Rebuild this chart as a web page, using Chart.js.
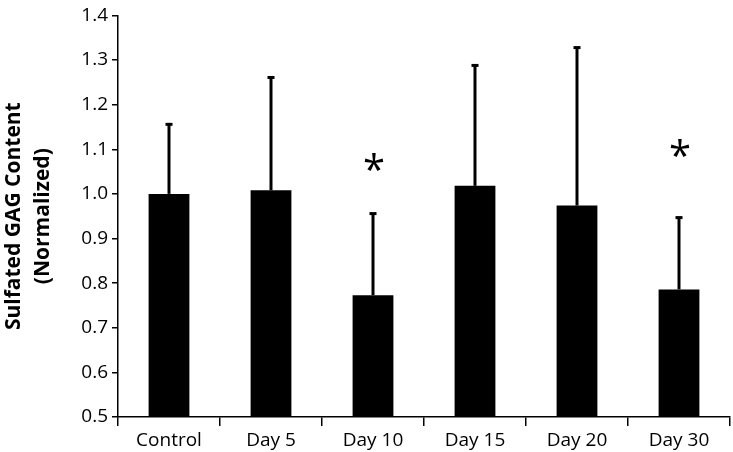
<!DOCTYPE html>
<html>
<head>
<meta charset="utf-8">
<script src="https://cdn.jsdelivr.net/npm/chart.js@4"></script>
<style>
  html, body { margin: 0; padding: 0; background: #fff; }
  #wrap { width: 733px; height: 452px; }
</style>
</head>
<body>
<div id="wrap"><canvas id="gagChart"></canvas></div>
<script>
// data
const categories = ['Control', 'Day 5', 'Day 10', 'Day 15', 'Day 20', 'Day 30'];
const meanValues = [1.0, 1.008, 0.773, 1.018, 0.974, 0.786];
const errorTops = [1.157, 1.262, 0.957, 1.289, 1.329, 0.948];   // mean + SD
const starLevels = [null, null, 1.05, null, null, 1.081];       // significance markers
const yTicks = [0.5, 0.6, 0.7, 0.8, 0.9, 1.0, 1.1, 1.2, 1.3, 1.4];

const FONT = '"Open Sans", "Liberation Sans", sans-serif';
const STAR_SIZE = 40;

// draws upward-only error bars plus the asterisks
const errorBarPlugin = {
    id: 'errorBars',
    afterDatasetsDraw(chart) {
        const ctx = chart.ctx;
        const yScale = chart.scales.y;
        const meta = chart.getDatasetMeta(0);
        ctx.save();
        ctx.strokeStyle = '#000';
        ctx.fillStyle = '#000';
        meta.data.forEach((bar, i) => {
            const x = bar.x;
            const yTop = yScale.getPixelForValue(errorTops[i]);
            ctx.lineWidth = 3;
            ctx.beginPath();
            ctx.moveTo(x, bar.y);
            ctx.lineTo(x, yTop);
            ctx.stroke();
            ctx.fillRect(x - 3.5, yTop - 1, 7, 3); // small cap
            if (starLevels[i] != null) {
                ctx.font = STAR_SIZE + 'px ' + FONT;
                ctx.textAlign = 'center';
                ctx.textBaseline = 'alphabetic';
                ctx.fillText('*', x + 1, yScale.getPixelForValue(starLevels[i]) + STAR_SIZE * 0.31);
            }
        });
        ctx.restore();
    }
};

new Chart(document.getElementById('gagChart'), {
    type: 'bar',
    data: {
        labels: categories,
        datasets: [{
            data: meanValues,
            backgroundColor: '#000',
            borderWidth: 0,
            categoryPercentage: 1.0,
            barPercentage: 0.4
        }]
    },
    options: {
        responsive: true,
        maintainAspectRatio: false,
        animation: false,
        layout: { padding: { top: 5, right: 3, left: 0, bottom: 0 } },
        plugins: {
            legend: { display: false },
            tooltip: { enabled: false }
        },
        scales: {
            x: {
                grid: {
                    display: true,
                    offset: true,
                    drawOnChartArea: false,
                    tickLength: 9,
                    color: '#000',
                    lineWidth: 1.5
                },
                border: { color: '#000', width: 1.5 },
                ticks: {
                    color: '#000',
                    font: { family: FONT, size: 19 },
                    padding: 3
                },
                afterFit(scale) { scale.height = 35; }
            },
            y: {
                min: 0.5,
                max: 1.4,
                afterBuildTicks(scale) {
                    scale.ticks = yTicks.map(v => ({ value: v }));
                },
                grid: {
                    display: true,
                    drawOnChartArea: false,
                    tickLength: 6,
                    color: '#000',
                    lineWidth: 1.5
                },
                border: { color: '#000', width: 1.5 },
                ticks: {
                    color: '#000',
                    font: { family: FONT, size: 19 },
                    padding: 4,
                    callback: v => Number(v).toFixed(1)
                },
                title: {
                    display: true,
                    text: ['Sulfated GAG Content', '(Normalized)'],
                    color: '#000',
                    font: { family: FONT, size: 21, weight: 'bold', lineHeight: 1.35 },
                    padding: { top: 0, bottom: 4 }
                },
                afterFit(scale) { scale.width = 118; }
            }
        }
    },
    plugins: [errorBarPlugin]
});
</script>
</body>
</html>
